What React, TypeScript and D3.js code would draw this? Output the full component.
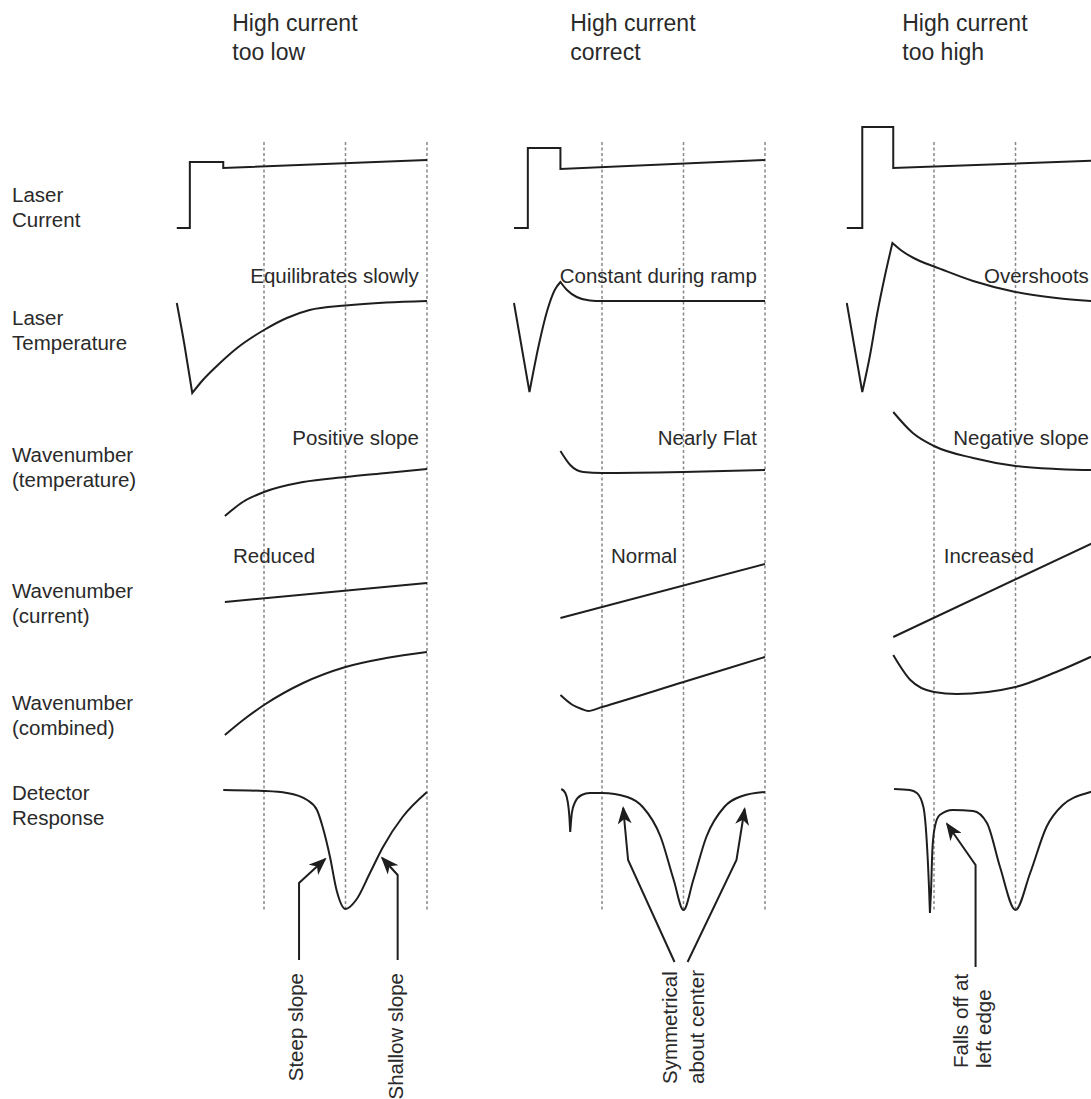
import React from "react";
import * as d3 from "d3";

type Pt = [number, number];

// ---------- text content ----------
const titles: string[][] = [
  ["High current", "too low"],
  ["High current", "correct"],
  ["High current", "too high"],
];
const rowLabels: string[][] = [
  ["Laser", "Current"],
  ["Laser", "Temperature"],
  ["Wavenumber", "(temperature)"],
  ["Wavenumber", "(current)"],
  ["Wavenumber", "(combined)"],
  ["Detector", "Response"],
];
const gridTicks = [0, 1, 2];

// ---------- data: time (ramp-interval units) vs. relative value ----------
const laserCurrent: Pt[][][] = [
  [[[-1.07, 0], [-0.91, 0], [-0.91, 66], [-0.5, 66], [-0.5, 60], [2, 68]]],
  [[[-1.08, 0], [-0.91, 0], [-0.91, 80], [-0.51, 80], [-0.51, 59], [2, 68]]],
  [[[-1.07, 0], [-0.88, 0], [-0.88, 101], [-0.5, 101], [-0.5, 60], [2, 67.5]]],
];
const laserTemperature: Pt[][][] = [
  [
    [[-1.07, 90], [-0.98, 50], [-0.88, 0]],
    [[-0.88, 0], [-0.75, 13], [-0.54, 30], [-0.33, 45], [0, 63], [0.28, 75], [0.56, 83], [1, 87.5], [1.5, 90.5], [2, 92]],
  ],
  [
    [[-1.08, 90], [-0.89, 1]],
    [[-0.89, 1], [-0.77, 50], [-0.67, 83], [-0.58, 103], [-0.51, 111]],
    [[-0.51, 111], [-0.43, 103], [-0.31, 96], [-0.15, 92.5], [0, 92], [2, 92]],
  ],
  [
    [[-1.07, 90], [-0.88, 1]],
    [[-0.88, 1], [-0.78, 40], [-0.7, 78], [-0.6, 118], [-0.51, 150]],
    [[-0.51, 150], [-0.4, 142.5], [-0.25, 135], [-0.1, 129.5], [0, 126.5], [0.48, 112], [1, 101], [1.5, 95], [2, 91.5]],
  ],
];
const wnTemperature: Pt[][][] = [
  [[[-0.48, 4], [-0.26, 18], [0, 28], [0.48, 38], [1, 43], [1.5, 47], [2, 51]]],
  [[[-0.51, 69], [-0.39, 55], [-0.23, 48], [0, 47], [1, 48], [2, 50]]],
  [[[-0.5, 108], [-0.26, 87], [0, 74], [0.48, 62], [1, 54], [1.5, 51], [1.92, 50], [2, 50]]],
];
const wnCurrent: Pt[][][] = [
  [[[-0.48, 38], [2, 57]]],
  [[[-0.51, 22], [2, 76]]],
  [[[-0.5, 3], [2, 99]]],
];
const wnCombined: Pt[][][] = [
  [[[-0.48, 5], [-0.24, 21], [0, 35], [0.48, 57], [1, 73], [1.5, 82], [2, 88]]],
  [[[-0.51, 45], [-0.36, 35], [-0.25, 31], [-0.17, 29], [0, 33], [1, 58], [2, 83]]],
  [[[-0.5, 85], [-0.29, 60], [0, 48], [0.28, 46], [1, 53], [1.5, 68], [1.92, 83], [2, 86]]],
];
const detector: Pt[][][] = [
  [[[-0.5, 122], [0, 121], [0.28, 119], [0.53, 112], [0.65, 102], [0.72, 85], [0.81, 55], [0.89, 22], [1, 3], [1.13, 12], [1.3, 39], [1.46, 65], [1.7, 95], [2, 120]]],
  [
    [[-0.5, 123], [-0.45, 119], [-0.42, 110], [-0.4, 95], [-0.39, 80]],
    [[-0.39, 80], [-0.37, 99], [-0.33, 110], [-0.25, 117], [-0.15, 119], [0, 119], [0.31, 115], [0.5, 105], [0.72, 75], [0.88, 32], [1, 2], [1.12, 32], [1.28, 75], [1.5, 105], [1.72, 116], [2, 120]],
  ],
  [
    [[-0.49, 123], [-0.3, 122], [-0.21, 119], [-0.13, 105], [-0.09, 72], [-0.06, 22], [-0.05, -1]],
    [[-0.05, -1], [-0.036, 22], [-0.02, 62], [0.01, 85], [0.07, 97], [0.23, 102], [0.48, 101], [0.65, 89], [0.81, 45], [1, 2], [1.18, 39], [1.38, 85], [1.58, 107], [1.92, 120], [2, 122]],
  ],
];

// annotation texts
const tempNotes = ["Equilibrates slowly", "Constant during ramp", "Overshoots"];
const wnTempNotes = ["Positive slope", "Nearly Flat", "Negative slope"];
const wnCurNotes = ["Reduced", "Normal", "Increased"];
const wnCurNoteStart = [-0.38, 0.11, 0.12];

// arrows (detector-row coordinates)
const arrows: Pt[][][] = [
  [
    [[0.43, -48], [0.43, 29], [0.75, 53]],
    [[1.64, -48], [1.64, 37], [1.45, 54]],
  ],
  [
    [[0.89, -50], [0.32, 52], [0.26, 104]],
    [[1.05, -50], [1.65, 52], [1.75, 103]],
  ],
  [[[0.51, -55], [0.51, 47], [0.16, 88]]],
];
// rotated labels under the detector: [text, t, value, anchor]
const bottomLabels: [string, number, number, string][][] = [
  [["Steep slope", 0.48, -61, "end"], ["Shallow slope", 1.7, -61, "end"]],
  [["Symmetrical", 0.92, -172, "start"], ["about center", 1.25, -172, "start"]],
  [["Falls off at", 0.42, -156, "start"], ["left edge", 0.7, -156, "start"]],
];

// ---------- layout ----------
const W = 1091;
const H = 1099;
const PANEL_X0 = [264, 602, 934];
const PANEL_W = 163;
const ROW_Y0 = [228, 393, 520, 640, 740, 912];
const LABEL_Y = [202, 325, 462, 598, 710, 800];
const GRID_TOP = 142;
const GRID_BOTTOM = 910;
const FONT = "'Liberation Sans', Arial, Helvetica, sans-serif";
const INK = "#1e1e1e";
const TEXT = "#2a2a2a";
const FS = 20.5;

export default function App() {
  const xs = PANEL_X0.map((x0) => d3.scaleLinear().domain([0, 2]).range([x0, x0 + PANEL_W]));
  const ys = ROW_Y0.map((y0) => d3.scaleLinear().domain([0, 100]).range([y0, y0 - 100]));
  const rows = [laserCurrent, laserTemperature, wnTemperature, wnCurrent, wnCombined, detector];

  const pathFor = (pieces: Pt[][], x: d3.ScaleLinear<number, number>, y: d3.ScaleLinear<number, number>, smooth: boolean) => {
    const line = d3
      .line<Pt>()
      .x((d) => x(d[0]))
      .y((d) => y(d[1]))
      .curve(smooth ? d3.curveMonotoneX : d3.curveLinear);
    return pieces
      .map((p, i) => {
        const s = line(p) || "";
        return i === 0 ? s : s.replace(/^M/, "L");
      })
      .join("");
  };
  const arrowLine = d3.line<Pt>();

  return (
    <svg
      width={W}
      height={H}
      style={{ position: "absolute", left: 0, top: 0, background: "#fff" }}
      fontFamily={FONT}
    >
      <defs>
        <marker
          id="ah"
          viewBox="0 0 18 14"
          refX="16"
          refY="7"
          markerWidth="18"
          markerHeight="14"
          markerUnits="userSpaceOnUse"
          orient="auto"
        >
          <path d="M0,0 L18,7 L0,14 L5,7 Z" fill={INK} />
        </marker>
      </defs>
      <rect x={0} y={0} width={W} height={H} fill="#fff" />

      {/* row labels */}
      {rowLabels.map((lines, r) => (
        <text key={"rl" + r} fontSize={FS} fill={TEXT}>
          {lines.map((l, i) => (
            <tspan key={i} x={12} y={LABEL_Y[r] + i * 25}>
              {l}
            </tspan>
          ))}
        </text>
      ))}

      {PANEL_X0.map((_, p) => {
        const x = xs[p];
        return (
          <g key={"p" + p}>
            {/* title */}
            <text fontSize={23} fill={TEXT}>
              {titles[p].map((l, i) => (
                <tspan key={i} x={x(-0.5) + 9} y={31 + i * 29}>
                  {l}
                </tspan>
              ))}
            </text>
            {/* dashed grid */}
            {gridTicks.map((t) => (
              <line
                key={"g" + t}
                x1={x(t)}
                x2={x(t)}
                y1={GRID_TOP}
                y2={GRID_BOTTOM}
                stroke="#888"
                strokeWidth={1.5}
                strokeDasharray="3,2.5"
              />
            ))}
            {/* curves */}
            {rows.map((row, r) => (
              <path
                key={"c" + r}
                d={pathFor(row[p], x, ys[r], r !== 0)}
                fill="none"
                stroke={INK}
                strokeWidth={2}
                strokeLinejoin="miter"
                strokeLinecap="butt"
              />
            ))}
            {/* notes */}
            <text x={x(1.9)} y={ys[1](110)} fontSize={FS} fill={TEXT} textAnchor="end">
              {tempNotes[p]}
            </text>
            <text x={x(1.9)} y={ys[2](75)} fontSize={FS} fill={TEXT} textAnchor="end">
              {wnTempNotes[p]}
            </text>
            <text x={x(wnCurNoteStart[p])} y={ys[3](77)} fontSize={FS} fill={TEXT}>
              {wnCurNotes[p]}
            </text>
            {/* arrows */}
            {arrows[p].map((a, i) => (
              <path
                key={"a" + i}
                d={arrowLine(a.map((d) => [x(d[0]), ys[5](d[1])] as [number, number])) || ""}
                fill="none"
                stroke={INK}
                strokeWidth={2}
                markerEnd="url(#ah)"
              />
            ))}
            {/* rotated labels */}
            {bottomLabels[p].map(([txt, t, v, anchor], i) => (
              <text
                key={"b" + i}
                transform={`translate(${x(t)},${ys[5](v)}) rotate(-90)`}
                fontSize={FS}
                fill={TEXT}
                textAnchor={anchor}
              >
                {txt}
              </text>
            ))}
          </g>
        );
      })}
    </svg>
  );
}
